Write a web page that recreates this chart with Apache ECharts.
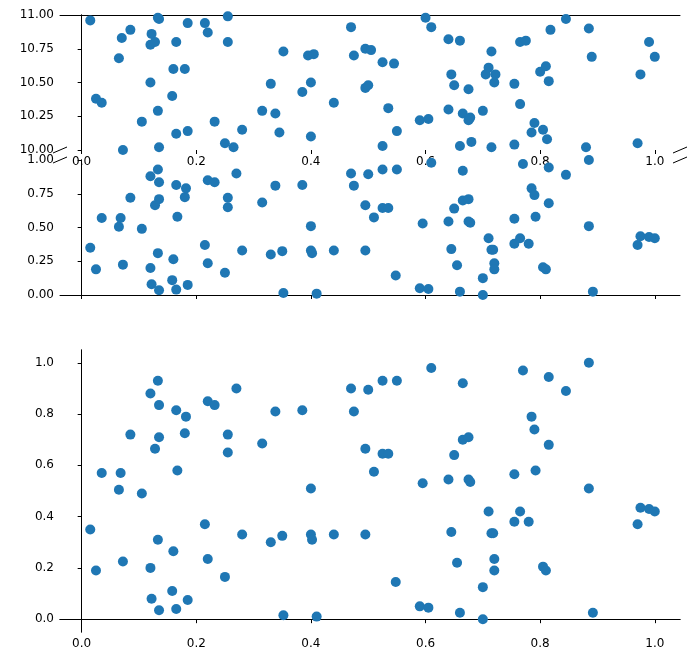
<!DOCTYPE html>
<html>
<head>
<meta charset="utf-8">
<script src="https://cdn.jsdelivr.net/npm/echarts@6/dist/echarts.min.js"></script>
<style>html,body{margin:0;background:#fff}#main{width:698px;height:665px}</style>
</head>
<body>
<div id="main"></div>
<script>
// 下方散点（0~1）
const lowPts = [[0.015,0.35],[0.025,0.19],[0.035,0.57],[0.065,0.505],[0.068,0.57],[0.072,0.225],[0.085,0.72],[0.105,0.49],[0.12,0.88],[0.12,0.2],[0.122,0.08],[0.128,0.665],[0.133,0.93],[0.133,0.31],[0.135,0.835],[0.135,0.71],[0.135,0.035],[0.16,0.265],[0.158,0.11],[0.165,0.815],[0.165,0.04],[0.167,0.58],[0.18,0.725],[0.182,0.79],[0.185,0.075],[0.215,0.37],[0.22,0.85],[0.22,0.235],[0.232,0.835],[0.25,0.165],[0.255,0.65],[0.255,0.72],[0.27,0.9],[0.28,0.33],[0.315,0.685],[0.33,0.3],[0.338,0.81],[0.35,0.325],[0.352,0.015],[0.385,0.815],[0.4,0.51],[0.4,0.33],[0.402,0.31],[0.41,0.01],[0.44,0.33],[0.47,0.9],[0.475,0.81],[0.495,0.665],[0.495,0.33],[0.5,0.895],[0.51,0.575],[0.525,0.93],[0.525,0.645],[0.535,0.645],[0.55,0.93],[0.548,0.145],[0.595,0.53],[0.59,0.05],[0.605,0.045],[0.61,0.98],[0.64,0.545],[0.645,0.34],[0.65,0.64],[0.655,0.22],[0.66,0.025],[0.665,0.92],[0.665,0.7],[0.675,0.71],[0.675,0.545],[0.678,0.535],[0.7,0.125],[0.7,0.0],[0.71,0.42],[0.715,0.335],[0.718,0.335],[0.72,0.235],[0.72,0.19],[0.755,0.565],[0.755,0.38],[0.765,0.42],[0.77,0.97],[0.78,0.38],[0.785,0.79],[0.79,0.74],[0.792,0.58],[0.805,0.205],[0.81,0.19],[0.815,0.945],[0.815,0.68],[0.845,0.89],[0.885,0.51],[0.885,1.0],[0.892,0.025],[0.97,0.37],[0.975,0.435],[0.99,0.43],[1.0,0.42]]
// 上方散点（10~11）
const highPts = [[0.015,10.96],[0.025,10.38],[0.035,10.35],[0.065,10.68],[0.07,10.83],[0.072,10.0],[0.085,10.89],[0.105,10.21],[0.12,10.5],[0.12,10.78],[0.122,10.86],[0.128,10.8],[0.133,10.98],[0.135,10.97],[0.133,10.29],[0.135,10.02],[0.158,10.4],[0.16,10.6],[0.165,10.8],[0.165,10.12],[0.18,10.6],[0.185,10.94],[0.185,10.14],[0.215,10.94],[0.22,10.87],[0.232,10.21],[0.25,10.05],[0.255,10.8],[0.255,10.99],[0.265,10.02],[0.28,10.15],[0.315,10.29],[0.33,10.49],[0.338,10.27],[0.345,10.13],[0.352,10.73],[0.385,10.43],[0.395,10.7],[0.405,10.71],[0.4,10.5],[0.4,10.1],[0.44,10.35],[0.47,10.91],[0.475,10.7],[0.495,10.75],[0.495,10.46],[0.505,10.74],[0.5,10.48],[0.525,10.65],[0.525,10.03],[0.545,10.64],[0.535,10.31],[0.55,10.14],[0.59,10.22],[0.6,10.98],[0.605,10.23],[0.61,10.91],[0.64,10.82],[0.64,10.3],[0.645,10.56],[0.65,10.48],[0.66,10.81],[0.66,10.03],[0.665,10.27],[0.675,10.45],[0.675,10.22],[0.678,10.24],[0.68,10.06],[0.7,10.29],[0.705,10.56],[0.71,10.61],[0.715,10.73],[0.715,10.02],[0.72,10.5],[0.722,10.56],[0.755,10.49],[0.755,10.04],[0.765,10.8],[0.765,10.34],[0.775,10.81],[0.785,10.13],[0.79,10.2],[0.8,10.58],[0.805,10.15],[0.81,10.62],[0.812,10.08],[0.815,10.51],[0.818,10.89],[0.845,10.97],[0.88,10.02],[0.885,10.9],[0.89,10.69],[0.97,10.05],[0.975,10.56],[0.99,10.8],[1.0,10.69]]
const xTicks = [0, 0.2, 0.4, 0.6, 0.8, 1.0]
const yTicksTop = [10, 10.25, 10.5, 10.75, 11]
const yTicksMid = [0, 0.25, 0.5, 0.75, 1]
const yTicksBot = [0, 0.2, 0.4, 0.6, 0.8, 1.0]

const chart = echarts.init(document.querySelector('#main'))
const font = { color: '#000', fontSize: 12, fontFamily: 'DejaVu Sans' }
const line = { show: true, lineStyle: { color: '#000', width: 1 } }
const tick = vals => ({ show: true, customValues: vals, length: 4, lineStyle: { color: '#000' } })
const XMIN = -0.0378, XMAX = 1.044

// x轴：底部刻度 + 顶部边框
function xPair(gi, showLabel, bottomLine, topLine) {
  return [
    { type: 'value', gridIndex: gi, position: 'bottom', min: XMIN, max: XMAX, splitLine: { show: false },
      axisLine: { show: bottomLine, lineStyle: { color: '#000' } }, axisTick: tick(xTicks),
      axisLabel: { show: showLabel, customValues: xTicks, formatter: v => v.toFixed(1), margin: 6, ...font } },
    { type: 'value', gridIndex: gi, position: 'top', min: XMIN, max: XMAX, splitLine: { show: false },
      axisLine: { show: topLine, lineStyle: { color: '#000' } }, axisTick: { show: false }, axisLabel: { show: false } },
  ]
}
function yPair(gi, min, max, vals, digits) {
  return [
    { type: 'value', gridIndex: gi, position: 'left', min, max, splitLine: { show: false },
      axisLine: line, axisTick: tick(vals),
      axisLabel: { customValues: vals, formatter: v => v.toFixed(digits), margin: 6, ...font } },
    { type: 'value', gridIndex: gi, position: 'right', min, max, splitLine: { show: false },
      axisLine: line, axisTick: { show: false }, axisLabel: { show: false } },
  ]
}
const dot = { type: 'scatter', symbolSize: 10, itemStyle: { color: '#1f77b4', opacity: 1 } }
// 断轴斜线
const diag = (x, y) => ({ type: 'line', shape: { x1: x - 7, y1: y + 3, x2: x + 7, y2: y - 3 }, style: { stroke: '#000', lineWidth: 1 } })

chart.setOption({
  animation: false,
  grid: [
    { left: 60, top: 15, width: 620, height: 135 },
    { left: 60, top: 160, width: 620, height: 135 },
    { left: 60, top: 350, width: 620, height: 282 },
  ],
  xAxis: [...xPair(0, true, false, true), ...xPair(1, false, true, false), ...xPair(2, true, true, true)],
  yAxis: [...yPair(0, 10, 11, yTicksTop, 2), ...yPair(1, 0, 1, yTicksMid, 2), ...yPair(2, -0.05, 1.05, yTicksBot, 1)],
  series: [
    { ...dot, xAxisIndex: 0, yAxisIndex: 0, data: highPts },
    { ...dot, xAxisIndex: 2, yAxisIndex: 2, data: lowPts },
    { ...dot, xAxisIndex: 4, yAxisIndex: 4, data: lowPts },
  ],
  graphic: [diag(60, 150), diag(680, 150), diag(60, 160), diag(680, 160)],
})
</script>
</body>
</html>
